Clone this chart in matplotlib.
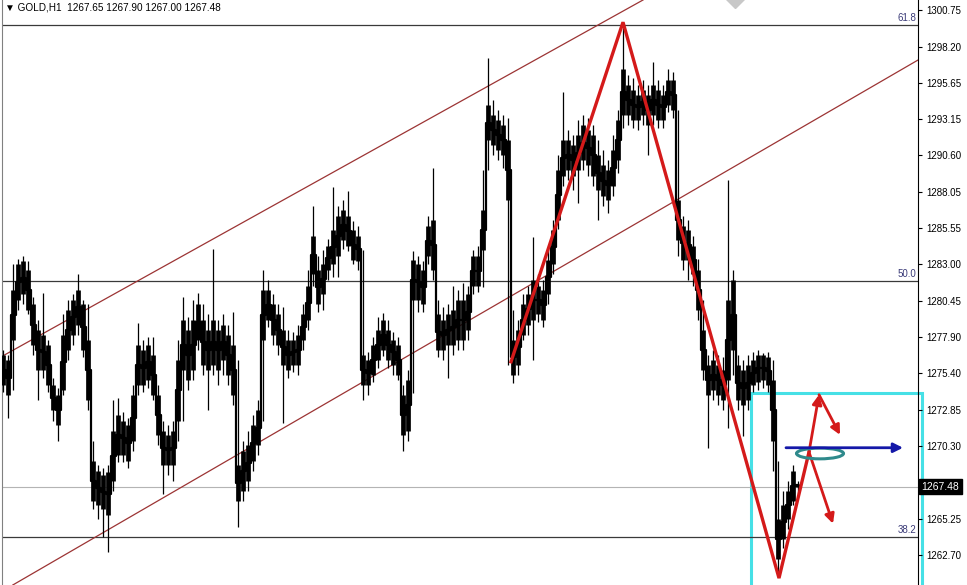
import matplotlib
matplotlib.use("Agg")
from matplotlib import pyplot as plt
from matplotlib.patches import Ellipse, Rectangle
from matplotlib import transforms

plt.rcParams['font.family'] = ['Liberation Sans', 'DejaVu Sans']

# GOLD H1, one entry per column of bars
highs = [
    1277.0, 1276.7, 1283.0, 1283.4, 1283.6, 1283.2, 1280.7, 1279.1, 1281.0, 1277.7,
    1275.1, 1274.4, 1279.5, 1280.5, 1280.9, 1282.3, 1280.5, 1280.2, 1270.7, 1269.0,
    1268.8, 1269.0, 1273.5, 1273.7, 1272.7, 1272.3, 1274.6, 1278.9, 1277.7, 1277.9,
    1277.9, 1274.6, 1272.1, 1271.8, 1272.1, 1277.7, 1280.7, 1279.3, 1280.5, 1281.0,
    1280.2, 1279.5, 1284.1, 1279.1, 1279.5, 1278.8, 1279.7, 1276.3, 1270.7, 1271.4,
    1272.5, 1273.5, 1282.6, 1281.9, 1280.9, 1280.2, 1280.0, 1278.4, 1278.3, 1278.8,
    1280.2, 1282.6, 1287.1, 1283.6, 1284.0, 1284.8, 1288.4, 1287.1, 1287.5, 1288.1,
    1286.0, 1285.7, 1284.0, 1276.9, 1277.9, 1279.3, 1279.6, 1279.1, 1278.3, 1277.9,
    1274.6, 1275.6, 1283.9, 1283.6, 1283.2, 1286.4, 1289.7, 1280.5, 1280.0, 1280.2,
    1281.5, 1281.2, 1281.7, 1281.5, 1284.0, 1284.3, 1289.6, 1297.4, 1294.5, 1293.8,
    1293.4, 1293.2, 1279.8, 1279.1, 1280.9, 1281.5, 1284.9, 1282.3, 1281.9, 1284.0,
    1286.1, 1290.6, 1295.0, 1292.4, 1292.0, 1293.1, 1293.4, 1293.2, 1292.7, 1291.7,
    1291.0, 1290.3, 1292.0, 1293.8, 1299.5, 1296.2, 1296.0, 1295.5, 1295.9, 1295.5,
    1297.1, 1295.9, 1295.5, 1296.6, 1296.4, 1293.8, 1286.4, 1286.1, 1285.0, 1283.4,
    1280.5, 1276.7, 1277.0, 1276.7, 1276.5, 1288.9, 1282.6, 1276.7, 1276.3, 1276.7,
    1276.9, 1277.0, 1276.8, 1276.9, 1276.3, 1269.3, 1267.2, 1267.9, 1269.0, 1267.90,
]
body_top = [
    1276.7, 1276.3, 1281.2, 1283.0, 1283.2, 1282.6, 1280.2, 1278.4, 1278.1, 1277.4,
    1274.6, 1273.9, 1278.1, 1279.8, 1280.5, 1281.2, 1280.2, 1277.7, 1269.3, 1268.6,
    1268.3, 1268.5, 1271.4, 1272.5, 1272.1, 1271.8, 1273.9, 1277.4, 1277.0, 1277.4,
    1276.7, 1273.9, 1271.4, 1271.1, 1271.4, 1276.3, 1279.1, 1278.4, 1279.1, 1280.2,
    1279.1, 1278.4, 1279.1, 1278.4, 1278.8, 1278.1, 1277.4, 1269.0, 1270.0, 1270.4,
    1271.8, 1272.8, 1281.2, 1281.2, 1280.2, 1279.5, 1278.4, 1277.7, 1277.7, 1278.1,
    1279.5, 1281.5, 1285.0, 1282.6, 1283.0, 1284.3, 1285.4, 1286.4, 1286.8, 1286.4,
    1285.4, 1285.0, 1276.7, 1276.3, 1277.4, 1278.4, 1279.1, 1278.4, 1277.7, 1277.4,
    1273.9, 1274.9, 1283.3, 1283.0, 1282.6, 1285.7, 1286.1, 1279.5, 1279.1, 1279.5,
    1279.8, 1280.5, 1280.5, 1280.9, 1283.6, 1283.6, 1286.8, 1294.1, 1293.4, 1293.1,
    1292.7, 1291.7, 1277.7, 1278.4, 1280.2, 1280.9, 1281.9, 1281.5, 1281.2, 1283.3,
    1285.4, 1289.6, 1291.7, 1291.7, 1291.3, 1292.0, 1292.7, 1292.4, 1292.0, 1290.6,
    1289.9, 1289.6, 1291.0, 1293.1, 1296.6, 1295.5, 1295.2, 1294.8, 1295.2, 1294.8,
    1295.5, 1295.2, 1294.8, 1295.9, 1295.9, 1287.5, 1285.7, 1285.4, 1284.3, 1282.6,
    1278.4, 1276.0, 1276.3, 1276.0, 1275.6, 1280.5, 1281.9, 1276.0, 1275.6, 1276.0,
    1276.3, 1276.7, 1276.7, 1276.5, 1274.9, 1265.2, 1266.2, 1267.2, 1268.6, 1267.65,
]
body_bot = [
    1274.6, 1273.9, 1277.7, 1280.5, 1280.9, 1279.8, 1277.4, 1275.6, 1275.6, 1274.6,
    1272.8, 1271.8, 1274.2, 1277.0, 1278.1, 1278.8, 1277.0, 1273.5, 1266.5, 1266.2,
    1265.9, 1265.5, 1267.9, 1269.7, 1269.7, 1269.3, 1270.7, 1274.6, 1274.6, 1274.9,
    1273.9, 1271.1, 1269.0, 1269.0, 1269.0, 1272.1, 1275.6, 1274.9, 1275.6, 1277.7,
    1276.0, 1275.6, 1276.0, 1275.6, 1276.3, 1275.3, 1273.9, 1266.5, 1267.2, 1267.9,
    1269.3, 1270.4, 1277.7, 1279.1, 1278.1, 1277.4, 1276.0, 1275.6, 1276.0, 1276.0,
    1277.7, 1279.1, 1282.3, 1280.2, 1280.9, 1282.6, 1283.0, 1283.6, 1284.7, 1284.3,
    1283.3, 1283.2, 1274.6, 1274.6, 1275.3, 1276.3, 1277.0, 1276.3, 1276.0, 1275.3,
    1271.1, 1271.4, 1280.5, 1280.5, 1280.2, 1283.6, 1282.6, 1277.0, 1277.0, 1277.4,
    1277.4, 1277.7, 1277.7, 1278.4, 1281.5, 1281.5, 1284.0, 1291.7, 1291.3, 1291.0,
    1290.6, 1287.5, 1275.3, 1276.0, 1278.1, 1278.8, 1279.1, 1279.5, 1279.1, 1280.9,
    1283.0, 1286.1, 1289.2, 1289.6, 1289.2, 1289.6, 1290.3, 1289.9, 1289.2, 1288.2,
    1287.8, 1287.5, 1288.5, 1290.3, 1293.4, 1293.4, 1293.1, 1293.1, 1293.4, 1292.7,
    1293.4, 1293.1, 1293.1, 1294.1, 1293.8, 1284.7, 1283.3, 1283.3, 1282.3, 1279.8,
    1275.6, 1273.9, 1274.2, 1273.9, 1273.5, 1274.9, 1277.0, 1273.5, 1273.2, 1273.5,
    1274.6, 1274.8, 1274.9, 1274.6, 1270.7, 1262.4, 1263.8, 1265.2, 1266.5, 1267.48,
]
lows = [
    1274.1, 1272.3, 1274.2, 1279.8, 1280.2, 1279.5, 1276.7, 1273.5, 1275.1, 1274.1,
    1272.1, 1270.7, 1273.9, 1276.3, 1277.4, 1278.1, 1276.5, 1272.8, 1265.9, 1265.2,
    1264.0, 1262.9, 1267.2, 1269.2, 1269.2, 1268.8, 1270.0, 1273.9, 1274.1, 1274.4,
    1273.5, 1270.4, 1267.0, 1268.3, 1267.9, 1270.7, 1272.1, 1274.2, 1274.9, 1277.0,
    1275.3, 1272.8, 1275.3, 1274.6, 1275.3, 1274.6, 1273.2, 1264.7, 1266.5, 1267.2,
    1268.6, 1269.7, 1272.1, 1278.6, 1277.4, 1276.7, 1271.9, 1275.1, 1275.5, 1275.3,
    1277.0, 1278.4, 1281.5, 1279.7, 1279.8, 1281.9, 1282.1, 1282.1, 1284.1, 1283.9,
    1283.0, 1282.6, 1273.5, 1273.9, 1274.8, 1275.8, 1276.6, 1275.8, 1275.3, 1274.9,
    1270.0, 1270.7, 1274.0, 1279.7, 1279.7, 1283.0, 1281.9, 1276.5, 1276.3, 1275.1,
    1276.7, 1277.0, 1277.0, 1277.7, 1280.9, 1281.1, 1281.4, 1289.6, 1290.6, 1290.3,
    1289.7, 1276.0, 1274.7, 1275.3, 1277.7, 1278.1, 1276.3, 1279.0, 1278.6, 1280.2,
    1282.3, 1285.5, 1288.5, 1288.9, 1288.2, 1287.3, 1289.6, 1289.2, 1288.5, 1286.1,
    1287.1, 1286.6, 1287.8, 1289.4, 1292.5, 1292.7, 1292.5, 1292.4, 1292.7, 1290.6,
    1292.7, 1292.5, 1292.5, 1293.6, 1293.2, 1283.6, 1282.6, 1281.9, 1281.5, 1279.1,
    1274.9, 1270.2, 1273.5, 1273.2, 1272.8, 1271.6, 1275.3, 1272.8, 1271.0, 1272.8,
    1274.1, 1274.2, 1274.4, 1274.1, 1268.6, 1261.5, 1263.2, 1264.5, 1266.2, 1267.00,
]
last_bar = (1267.65, 1267.90, 1267.00, 1267.48)

price_ticks = [1300.75, 1298.20, 1295.65, 1293.15, 1290.60, 1288.05, 1285.55, 1283.00,
               1280.45, 1277.90, 1275.40, 1272.85, 1270.30, 1267.75, 1265.25, 1262.70]
fib_labels = ["38.2", "50.0", "61.8"]
fib_prices = [1263.97, 1281.84, 1299.70]

# channel anchors (bar index, price)
upper_channel = [(-0.6, 1276.5), (128.0, 1301.45)]
lower_channel = [(3.0, 1260.83), (183.0, 1297.26)]

# wave count drawn on the chart
wave_x = [101.6, 124.0, 155.2, 161.2]
wave_y = [1276.2, 1299.9, 1261.1, 1269.9]
up_path = [(161.2, 1269.9), (163.2, 1273.9), (167.4, 1271.1)]
down_path = [(161.2, 1269.9), (166.0, 1264.9)]
target_arrow = [(156.6, 1270.2), (180.0, 1270.2)]
ellipse_center = (163.4, 1269.8)
box_left, box_top = 149.6, 1274.0
top_marker = (146.4, 1301.5)


def main():
    idx = list(range(len(highs)))
    mids = [(t + b) / 2 for t, b in zip(body_top, body_bot)]
    fig = plt.figure(figsize=(9.67, 5.85), dpi=100)
    ax = fig.add_axes([2 / 967, 0, 916 / 967, 1])
    ax.set_xlim(-0.2, 183.0)
    ax.set_ylim(1260.62, 1301.45)

    # selection box behind the bars
    ax.add_patch(Rectangle((box_left, 1255.0), 183.7 - box_left, box_top - 1255.0,
                           fill=False, ec="#46e0e6", lw=2.2, zorder=1, clip_on=False))

    for lvl in fib_prices:
        ax.axhline(lvl, color="#3a3a3a", lw=0.9, zorder=1)
    ax.axhline(last_bar[3], color="#b4b4b4", lw=0.8, zorder=1)
    for lab, lvl in zip(fib_labels, fib_prices):
        ax.text(182.6, lvl + 0.12, lab, ha="right", va="bottom", fontsize=7,
                color="#3b3b78", zorder=5)

    ax.axline(upper_channel[0], upper_channel[1], color="#9c3434", lw=0.9, zorder=2)
    ax.axline(lower_channel[0], lower_channel[1], color="#9c3434", lw=0.9, zorder=2)

    ax.vlines(idx, lows, highs, color="black", lw=0.9, zorder=3)
    ax.vlines(idx, body_bot, body_top, color="black", lw=3.4, zorder=3)
    ax.plot(idx, mids, color="black", lw=1.6, zorder=3, drawstyle="steps-mid")

    ax.plot(*top_marker, marker="D", ms=9, color="#c8c8c8", zorder=2, clip_on=True)

    red = "#d41a1a"
    ax.plot(wave_x, wave_y, color=red, lw=2.4, zorder=6, solid_joinstyle="miter")
    for a, b in [(up_path[0], up_path[1]), (up_path[1], up_path[2]),
                 (down_path[0], down_path[1])]:
        ax.annotate("", xy=b, xytext=a, zorder=6,
                    arrowprops=dict(arrowstyle="-|>", color=red, lw=2.0,
                                    mutation_scale=14, shrinkA=0, shrinkB=0))

    ax.add_patch(Ellipse(ellipse_center, 9.4, 0.75, fill=False, ec="#2f8a8c",
                         lw=2.2, zorder=6))
    ax.annotate("", xy=target_arrow[1], xytext=target_arrow[0], zorder=7,
                arrowprops=dict(arrowstyle="-|>", color="#1418a8", lw=2.0,
                                mutation_scale=14, shrinkA=0, shrinkB=0))

    ax.yaxis.tick_right()
    ax.set_yticks(price_ticks)
    # the 1267.75 label sits under the current-price marker
    ax.set_yticklabels(["" if p == 1267.75 else f"{p:.2f}" for p in price_ticks])
    ax.tick_params(axis="y", direction="out", length=3, pad=3, labelsize=7,
                   colors="black")
    ax.set_xticks([])
    for s in ["top", "bottom"]:
        ax.spines[s].set_visible(False)
    ax.spines["right"].set_color("black")
    ax.spines["left"].set_color("#808080")

    trans = transforms.blended_transform_factory(ax.transAxes, ax.transData)
    ax.text(1.004, last_bar[3], f"{last_bar[3]:.2f}", transform=trans, color="white",
            fontsize=7.5, va="center", ha="left", zorder=10, clip_on=False,
            bbox=dict(boxstyle="square,pad=0.25", fc="black", ec="black"))

    o, h, l, c = last_bar
    fig.text(5 / 967, 1 - 8 / 585, f"\u25bc GOLD,H1  {o:.2f} {h:.2f} {l:.2f} {c:.2f}",
             va="center", ha="left", fontsize=7.2, color="black")

    fig.savefig("out.png", dpi=100)


if __name__ == "__main__":
    main()
